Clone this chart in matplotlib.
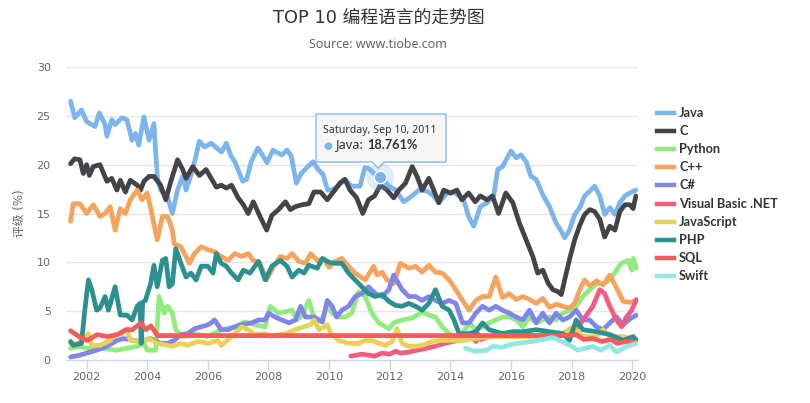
import matplotlib
matplotlib.use("Agg")
import matplotlib.pyplot as plt
from matplotlib.patches import Polygon
from matplotlib.lines import Line2D

plt.rcParams['font.family'] = ['DejaVu Sans', 'Noto Sans CJK SC']

# TIOBE 评级 (%), 按年份 (小数年)
java_years = [2001.47, 2001.61, 2001.83, 2002.0, 2002.28, 2002.42, 2002.61, 2002.67, 2002.83, 2002.94,
              2003.17, 2003.33, 2003.5, 2003.61, 2003.72, 2003.89, 2004.06, 2004.22, 2004.33, 2004.44,
              2004.67, 2004.83, 2005.0, 2005.17, 2005.28, 2005.5, 2005.72, 2005.89, 2006.11, 2006.33,
              2006.45, 2006.61, 2006.76, 2006.89, 2007.15, 2007.28, 2007.43, 2007.65, 2007.8, 2007.95,
              2008.15, 2008.31, 2008.44, 2008.61, 2008.75, 2008.92, 2009.08, 2009.3, 2009.47, 2009.64,
              2009.8, 2009.95, 2010.08, 2010.3, 2010.52, 2010.74, 2011.02, 2011.18, 2011.31, 2011.52,
              2011.69, 2011.97, 2012.19, 2012.46, 2012.74, 2012.96, 2013.23, 2013.45, 2013.62, 2013.89,
              2014.16, 2014.44, 2014.6, 2014.77, 2014.99, 2015.21, 2015.43, 2015.56, 2015.72, 2016.0,
              2016.17, 2016.33, 2016.5, 2016.66, 2016.83, 2017.05, 2017.27, 2017.49, 2017.66, 2017.77,
              2017.93, 2018.1, 2018.27, 2018.43, 2018.6, 2018.76, 2018.93, 2019.09, 2019.26, 2019.43,
              2019.59, 2019.76, 2019.92, 2020.12]
java_vals = [26.5, 24.8, 25.6, 24.4, 23.9, 25.3, 24.1, 22.9, 24.6, 24.1,
             24.8, 24.6, 22.5, 23.2, 22.0, 24.9, 22.5, 24.2, 18.8, 17.4,
             16.7, 15.0, 17.4, 18.8, 17.4, 19.5, 22.4, 21.8, 22.2, 21.6,
             21.3, 22.2, 20.9, 20.3, 18.3, 18.5, 20.3, 21.7, 21.0, 20.2,
             21.5, 21.2, 21.0, 21.5, 20.9, 18.1, 19.1, 19.8, 20.3, 19.5,
             19.0, 17.4, 17.4, 17.8, 18.5, 17.8, 17.8, 19.7, 19.6, 19.0,
             18.761, 17.8, 17.4, 16.2, 16.8, 17.4, 17.3, 16.8, 16.1, 17.1,
             17.1, 16.4, 14.7, 13.7, 15.7, 16.1, 16.8, 19.5, 19.8, 21.4,
             20.7, 21.0, 20.3, 18.8, 18.5, 16.9, 15.7, 14.0, 13.2, 12.5,
             13.3, 14.9, 15.6, 16.8, 17.3, 17.8, 16.8, 14.9, 15.6, 14.9,
             16.1, 16.8, 17.1, 17.4]

c_years = [2001.47, 2001.6, 2001.78, 2001.89, 2002.0, 2002.09, 2002.22, 2002.44, 2002.67, 2002.83,
           2003.0, 2003.11, 2003.28, 2003.44, 2003.67, 2003.78, 2003.89, 2004.06, 2004.22, 2004.44,
           2004.61, 2004.78, 2005.0, 2005.17, 2005.28, 2005.5, 2005.72, 2005.94, 2006.11, 2006.28,
           2006.44, 2006.61, 2006.78, 2007.0, 2007.17, 2007.33, 2007.5, 2007.72, 2007.94, 2008.11,
           2008.33, 2008.56, 2008.72, 2008.89, 2009.11, 2009.33, 2009.5, 2009.72, 2009.94, 2010.19,
           2010.35, 2010.52, 2010.69, 2010.91, 2011.11, 2011.3, 2011.5, 2011.69, 2011.91, 2012.13,
           2012.3, 2012.52, 2012.74, 2012.9, 2013.07, 2013.29, 2013.45, 2013.62, 2013.78, 2014.0,
           2014.22, 2014.38, 2014.6, 2014.82, 2014.99, 2015.21, 2015.39, 2015.59, 2015.83, 2016.06,
           2016.28, 2016.5, 2016.72, 2016.88, 2017.05, 2017.22, 2017.38, 2017.55, 2017.66, 2017.77,
           2017.93, 2018.1, 2018.27, 2018.43, 2018.6, 2018.76, 2018.93, 2019.09, 2019.26, 2019.43,
           2019.59, 2019.76, 2019.92, 2020.03, 2020.12]
c_vals = [20.1, 20.6, 20.5, 19.1, 20.0, 18.9, 19.8, 20.0, 18.3, 18.6,
          17.4, 18.4, 17.2, 18.4, 17.9, 17.4, 18.3, 18.8, 18.8, 17.9,
          16.4, 18.3, 20.5, 19.5, 18.6, 19.8, 18.9, 19.5, 18.6, 17.7,
          17.9, 17.6, 17.9, 16.6, 15.9, 15.0, 16.2, 14.7, 13.3, 14.8,
          15.4, 16.2, 15.4, 15.7, 15.9, 16.0, 17.2, 17.2, 16.4, 17.4,
          18.1, 18.5, 17.4, 16.6, 15.0, 16.4, 16.8, 17.9, 17.4, 16.6,
          17.4, 18.1, 19.8, 18.8, 17.4, 18.6, 17.4, 16.1, 17.4, 17.1,
          17.4, 16.4, 17.1, 16.2, 16.8, 16.4, 16.8, 15.0, 17.1, 16.1,
          14.0, 12.3, 10.6, 8.9, 9.2, 7.9, 7.2, 7.0, 6.7, 8.2,
          10.3, 12.3, 13.8, 14.9, 15.4, 15.2, 14.4, 12.6, 13.7, 13.3,
          15.2, 15.9, 15.9, 15.5, 16.8]

python_years = [2001.47, 2001.78, 2002.0, 2002.44, 2003.0, 2003.33, 2003.67, 2003.89, 2004.0, 2004.28,
                2004.39, 2004.56, 2004.67, 2004.83, 2004.94, 2005.17, 2005.56, 2006.0, 2006.44, 2006.89,
                2007.22, 2007.56, 2007.89, 2008.06, 2008.33, 2008.78, 2008.94, 2009.11, 2009.33, 2009.5,
                2009.72, 2009.94, 2010.09, 2010.31, 2010.53, 2010.75, 2010.97, 2011.19, 2011.41, 2011.64,
                2011.97, 2012.13, 2012.41, 2012.74, 2013.07, 2013.29, 2013.51, 2013.73, 2013.96, 2014.18,
                2014.4, 2014.62, 2014.84, 2015.06, 2015.28, 2015.5, 2015.72, 2015.94, 2016.17, 2016.39,
                2016.61, 2016.83, 2017.05, 2017.27, 2017.49, 2017.71, 2017.93, 2018.15, 2018.37, 2018.6,
                2018.82, 2019.04, 2019.26, 2019.48, 2019.64, 2019.87, 2019.98, 2020.03, 2020.14]
python_vals = [1.2, 1.4, 1.2, 1.2, 1.0, 1.2, 1.4, 1.7, 1.0, 1.0,
               6.5, 4.8, 5.5, 4.8, 3.1, 2.4, 2.7, 2.4, 3.1, 3.4,
               3.9, 3.6, 3.4, 5.5, 4.8, 5.1, 4.1, 4.6, 6.1, 4.4,
               3.9, 5.5, 4.8, 4.4, 4.4, 4.8, 7.0, 6.5, 4.8, 3.8,
               3.2, 3.8, 4.1, 4.3, 4.9, 4.6, 4.4, 3.4, 2.7, 2.4,
               2.7, 3.8, 3.1, 3.4, 3.8, 4.1, 4.4, 4.4, 4.1, 3.4,
               4.4, 3.8, 4.1, 4.4, 4.1, 4.8, 5.1, 5.5, 6.5, 7.2,
               7.8, 7.8, 8.2, 9.2, 9.9, 10.2, 9.2, 10.4, 9.4]

cpp_years = [2001.47, 2001.56, 2001.78, 2002.0, 2002.22, 2002.44, 2002.61, 2002.78, 2002.94, 2003.11,
             2003.28, 2003.44, 2003.67, 2003.83, 2004.0, 2004.17, 2004.33, 2004.5, 2004.67, 2004.83,
             2004.89, 2005.11, 2005.28, 2005.39, 2005.56, 2005.78, 2006.0, 2006.22, 2006.44, 2006.67,
             2006.89, 2007.11, 2007.33, 2007.5, 2007.72, 2007.94, 2008.17, 2008.39, 2008.61, 2008.78,
             2009.0, 2009.22, 2009.39, 2009.61, 2009.83, 2010.0, 2010.2, 2010.42, 2010.64, 2010.86,
             2011.19, 2011.47, 2011.58, 2011.75, 2011.91, 2012.13, 2012.35, 2012.63, 2012.85, 2013.07,
             2013.29, 2013.51, 2013.73, 2013.96, 2014.18, 2014.4, 2014.62, 2014.84, 2015.06, 2015.28,
             2015.5, 2015.72, 2015.94, 2016.17, 2016.39, 2016.61, 2016.83, 2017.05, 2017.27, 2017.49,
             2017.71, 2017.93, 2018.1, 2018.27, 2018.43, 2018.6, 2018.82, 2019.04, 2019.26, 2019.48,
             2019.7, 2019.92, 2020.14]
cpp_vals = [14.2, 16.0, 16.0, 15.0, 15.9, 14.7, 15.0, 15.7, 13.3, 15.5,
            15.0, 16.4, 17.4, 16.4, 17.1, 14.7, 12.3, 14.7, 14.7, 13.3,
            11.9, 11.6, 10.6, 9.9, 10.9, 11.6, 11.3, 11.1, 10.6, 10.2,
            10.9, 10.6, 10.9, 10.2, 9.9, 8.2, 9.6, 10.6, 10.4, 10.9,
            10.1, 9.9, 10.9, 10.2, 10.3, 9.5, 10.1, 10.4, 9.6, 8.9,
            8.2, 9.6, 8.7, 9.0, 8.2, 7.8, 9.9, 9.4, 9.6, 9.0,
            9.7, 9.0, 8.9, 8.2, 7.2, 6.1, 5.1, 6.1, 6.5, 6.5,
            8.5, 6.4, 6.8, 6.2, 6.5, 6.2, 5.8, 6.3, 5.4, 5.7,
            5.5, 5.3, 5.8, 7.2, 8.2, 7.6, 8.1, 7.7, 8.7, 7.4,
            6.0, 5.9, 6.1]

csharp_years = [2001.47, 2001.78, 2002.0, 2002.33, 2002.67, 2003.0, 2003.22, 2003.56, 2003.78, 2004.11,
                2004.44, 2004.67, 2004.89, 2005.11, 2005.33, 2005.56, 2005.78, 2006.0, 2006.11, 2006.22,
                2006.44, 2006.67, 2006.89, 2007.11, 2007.44, 2007.67, 2007.89, 2008.0, 2008.22, 2008.44,
                2008.67, 2008.89, 2009.06, 2009.22, 2009.5, 2009.78, 2009.94, 2010.1, 2010.25, 2010.42,
                2010.64, 2010.86, 2011.08, 2011.3, 2011.52, 2011.75, 2011.97, 2012.13, 2012.41, 2012.63,
                2012.85, 2013.07, 2013.29, 2013.51, 2013.73, 2013.96, 2014.18, 2014.4, 2014.62, 2014.84,
                2015.06, 2015.28, 2015.5, 2015.72, 2015.94, 2016.17, 2016.39, 2016.61, 2016.83, 2017.05,
                2017.27, 2017.49, 2017.71, 2017.93, 2018.15, 2018.37, 2018.6, 2018.82, 2019.04, 2019.26,
                2019.48, 2019.7, 2019.92, 2020.14]
csharp_vals = [0.3, 0.5, 0.7, 1.0, 1.4, 2.0, 2.2, 2.0, 1.9, 2.2,
               1.7, 1.7, 2.0, 2.6, 2.7, 3.2, 3.4, 3.6, 3.8, 4.1,
               3.1, 3.1, 3.4, 3.6, 3.8, 4.1, 4.1, 4.8, 4.4, 4.1,
               3.8, 4.1, 5.5, 4.4, 4.4, 3.9, 6.1, 5.5, 4.4, 5.1,
               5.5, 6.5, 6.8, 7.5, 6.8, 6.5, 7.2, 8.7, 7.2, 6.5,
               6.5, 6.1, 6.5, 6.1, 5.8, 6.1, 5.8, 3.8, 3.8, 4.8,
               5.5, 5.1, 5.5, 5.1, 4.8, 4.4, 4.1, 5.1, 3.8, 4.8,
               3.8, 4.8, 4.1, 4.4, 5.1, 4.1, 4.1, 3.4, 3.1, 3.8,
               4.4, 3.6, 4.2, 4.6]

vbnet_years = [2010.72, 2010.9, 2011.1, 2011.3, 2011.5, 2011.75, 2012.0, 2012.2, 2012.35, 2012.6,
               2012.9, 2013.2, 2013.5, 2013.8, 2014.1, 2014.4, 2014.7, 2014.85, 2014.9, 2015.0,
               2015.3, 2015.6, 2016.0, 2016.5, 2017.0, 2017.5, 2018.04, 2018.38, 2018.7, 2018.93,
               2019.09, 2019.26, 2019.48, 2019.65, 2019.81, 2019.98, 2020.14]
vbnet_vals = [0.4, 0.5, 0.6, 0.5, 0.4, 0.7, 0.6, 0.9, 0.7, 0.8,
              1.0, 1.2, 1.4, 1.7, 1.9, 2.1, 2.3, 1.9, 2.7, 2.1,
              2.4, 2.6, 2.5, 2.6, 2.4, 2.5, 2.7, 4.1, 5.5, 7.2,
              6.8, 5.5, 4.1, 3.4, 4.4, 5.1, 6.2]

js_years = [2001.47, 2001.78, 2002.06, 2002.17, 2002.44, 2002.78, 2002.94, 2003.17, 2003.33, 2003.44,
            2003.78, 2004.06, 2004.33, 2004.67, 2004.83, 2005.11, 2005.33, 2005.67, 2006.0, 2006.33,
            2006.44, 2006.78, 2007.11, 2007.33, 2007.56, 2007.89, 2008.11, 2008.33, 2008.56, 2008.89,
            2009.17, 2009.39, 2009.5, 2009.67, 2009.94, 2010.06, 2010.31, 2010.64, 2010.97, 2011.19,
            2011.41, 2011.64, 2011.86, 2012.08, 2012.24, 2012.41, 2012.63, 2012.85, 2013.07, 2013.4,
            2013.73, 2014.07, 2014.4, 2014.84, 2015.28, 2015.94, 2016.61, 2017.27, 2017.71, 2018.04,
            2018.37, 2018.82, 2019.04, 2019.26, 2019.7, 2020.14]
js_vals = [1.7, 1.7, 2.7, 1.5, 1.5, 2.0, 2.6, 2.7, 3.2, 2.0,
           1.9, 2.2, 1.7, 1.5, 1.4, 1.7, 1.5, 1.9, 1.7, 2.0,
           1.5, 2.4, 3.4, 3.1, 2.6, 2.7, 2.4, 2.6, 2.7, 3.1,
           3.4, 3.6, 4.1, 3.1, 3.6, 2.7, 2.0, 1.7, 1.7, 2.0,
           2.0, 1.7, 1.5, 1.9, 3.2, 1.7, 1.4, 1.4, 1.5, 1.9,
           2.0, 2.0, 2.0, 2.2, 2.4, 2.4, 2.4, 2.6, 2.7, 3.4,
           2.4, 2.4, 3.1, 2.4, 2.4, 2.0]

php_years = [2001.47, 2001.56, 2001.83, 2001.94, 2002.06, 2002.17, 2002.33, 2002.44, 2002.61, 2002.72,
             2002.94, 2003.11, 2003.33, 2003.5, 2003.67, 2003.76, 2003.8, 2003.85, 2003.94, 2004.11,
             2004.22, 2004.33, 2004.5, 2004.61, 2004.72, 2004.83, 2004.94, 2005.11, 2005.28, 2005.44,
             2005.61, 2005.78, 2006.0, 2006.17, 2006.28, 2006.44, 2006.61, 2006.78, 2007.0, 2007.17,
             2007.39, 2007.67, 2007.89, 2008.11, 2008.39, 2008.61, 2008.78, 2009.0, 2009.17, 2009.33,
             2009.61, 2009.78, 2010.0, 2010.2, 2010.42, 2010.64, 2010.86, 2011.08, 2011.3, 2011.52,
             2011.75, 2011.97, 2012.19, 2012.41, 2012.63, 2012.85, 2013.07, 2013.29, 2013.51, 2013.73,
             2013.96, 2014.12, 2014.29, 2014.62, 2014.84, 2015.06, 2015.28, 2015.5, 2015.72, 2016.05,
             2016.39, 2016.83, 2017.27, 2017.71, 2017.93, 2018.15, 2018.37, 2018.82, 2019.26, 2019.7,
             2020.03, 2020.14]
php_vals = [1.9, 1.5, 1.7, 5.1, 8.2, 7.2, 5.1, 5.3, 6.5, 5.1,
            7.5, 4.6, 4.6, 4.1, 5.5, 5.8, 1.7, 5.9, 6.1, 7.8,
            9.7, 7.5, 10.2, 10.4, 7.5, 7.8, 11.4, 9.9, 8.5, 8.9,
            8.2, 9.6, 9.6, 8.9, 10.9, 9.9, 9.6, 8.9, 8.2, 9.2,
            8.9, 10.1, 8.2, 9.6, 10.2, 9.6, 8.5, 9.2, 8.9, 9.7,
            9.4, 10.4, 10.0, 9.9, 9.9, 8.9, 8.2, 7.5, 6.8, 6.5,
            6.7, 6.0, 5.6, 5.5, 5.8, 5.5, 5.1, 5.8, 7.2, 5.5,
            5.1, 4.1, 2.7, 2.7, 2.9, 3.8, 3.1, 2.9, 2.7, 2.9,
            2.9, 3.1, 2.9, 2.7, 2.0, 4.1, 3.1, 2.9, 2.6, 2.0,
            2.4, 2.0]

sql_years = [2001.47, 2001.8, 2002.02, 2002.35, 2002.69, 2003.02, 2003.29, 2003.51, 2003.79, 2003.96,
             2004.12, 2004.34, 2017.9, 2018.15, 2018.4, 2018.7, 2019.0, 2019.3, 2019.5, 2019.8,
             2020.14]
sql_vals = [3.0, 2.3, 2.0, 2.6, 2.4, 2.6, 3.1, 3.1, 3.8, 3.1,
            3.5, 2.5, 2.5, 2.6, 2.1, 2.2, 1.9, 2.1, 1.7, 1.9,
            1.8]

swift_years = [2014.5, 2014.8, 2015.2, 2015.4, 2015.7, 2016.0, 2016.5, 2017.05, 2017.38, 2017.75,
               2017.95, 2018.2, 2018.45, 2018.7, 2018.95, 2019.26, 2019.48, 2019.81, 2020.14]
swift_vals = [1.2, 0.9, 1.0, 1.4, 1.3, 1.6, 1.8, 2.1, 2.3, 1.8,
              1.5, 1.0, 1.2, 1.4, 1.0, 1.5, 0.8, 1.4, 1.7]

names = ['Java', 'C', 'Python', 'C++', 'C#', 'Visual Basic .NET', 'JavaScript', 'PHP', 'SQL', 'Swift']
colors = ['#7cb5ec', '#434348', '#90ed7d', '#f7a35c', '#8085e9',
          '#f15c80', '#e4d354', '#2b908f', '#f45b5b', '#91e8e1']
series = [(java_years, java_vals), (c_years, c_vals), (python_years, python_vals),
          (cpp_years, cpp_vals), (csharp_years, csharp_vals), (vbnet_years, vbnet_vals),
          (js_years, js_vals), (php_years, php_vals), (sql_years, sql_vals),
          (swift_years, swift_vals)]
year_ticks = [2002, 2004, 2006, 2008, 2010, 2012, 2014, 2016, 2018, 2020]

W, H = 810, 403
fig = plt.figure(figsize=(W / 100, H / 100), dpi=100)


def fx(x):
    return x / W


def fy(y):
    return 1 - y / H


ax = fig.add_axes([fx(66), fy(360), (638 - 66) / W, (360 - 67) / H])

for (xs, ys), col in zip(series, colors):
    ax.plot(xs, ys, color=col, lw=3.4, solid_joinstyle='round', solid_capstyle='round')

ax.set_xlim(2001.32, 2020.19)
ax.set_ylim(0, 30)
ax.set_yticks(range(0, 31, 5))
ax.set_xticks(year_ticks)
ax.grid(axis='y', color='#e6e6e6', lw=1)
ax.set_axisbelow(True)
for s in ['top', 'right', 'left']:
    ax.spines[s].set_visible(False)
ax.spines['bottom'].set_color('#ccd6eb')
ax.tick_params(axis='x', colors='#ccd6eb', length=7, width=1, labelcolor='#666666', labelsize=8, pad=1.5)
ax.tick_params(axis='y', length=0, labelcolor='#666666', labelsize=8, pad=11)

# 悬停提示点
ax.plot([2011.69], [18.761], 'o', ms=20, color='#7cb5ec', alpha=0.25, mec='none', zorder=5)
ax.plot([2011.69], [18.761], 'o', ms=9, color='#7cb5ec', mec='white', mew=1, zorder=6)

# 提示框
outline = [(316, 114), (446, 114), (446, 162), (384, 162), (378, 168), (372, 162), (316, 162)]
shadow = Polygon([(fx(x + 1), fy(y + 1)) for x, y in outline],
                 closed=True, transform=fig.transFigure, fc='black', alpha=0.06, ec='none')
fig.patches.append(shadow)
box = Polygon([(fx(x), fy(y)) for x, y in outline],
              closed=True, transform=fig.transFigure, fc='#f7f7f7', alpha=0.9, ec='#7cb5ec', lw=1)
fig.patches.append(box)
fig.text(fx(323), fy(130), 'Saturday, Sep 10, 2011', fontsize=7.6, color='#333333', va='center',
         family='Noto Sans')
fig.text(fx(323), fy(146), '●', fontsize=7.5, color='#7cb5ec', va='center')
t1 = fig.text(fx(336), fy(145), 'Java: ', fontsize=9.2, color='#333333', va='center', family='Noto Sans')
fig.canvas.draw()
bb = t1.get_window_extent(fig.canvas.get_renderer())
fig.text(bb.x1 / W, fy(145), '18.761%', fontsize=9.2, color='#333333', fontweight='bold', va='center',
         family='Lato')

# 图例
for i, (name, col) in enumerate(zip(names, colors)):
    y = 113 + i * 18.1
    fig.add_artist(Line2D([fx(657), fx(674)], [fy(y), fy(y)], transform=fig.transFigure,
                          color=col, lw=3.2))
    fig.text(fx(679), fy(y), name, fontsize=9.2, fontweight='bold', color='#333333', va='center',
             family='Lato')

fig.text(fx(379), fy(18), 'TOP 10 编程语言的走势图', fontsize=12.8, color='#333333',
         ha='center', va='center')
fig.text(fx(378), fy(45), 'Source: www.tiobe.com', fontsize=9, color='#666666',
         ha='center', va='center', family='Noto Sans')
fig.text(fx(20), fy(213), '评级 (%)', fontsize=8.5, color='#666666', rotation=90,
         ha='center', va='center')

fig.savefig('out.png', dpi=100)
